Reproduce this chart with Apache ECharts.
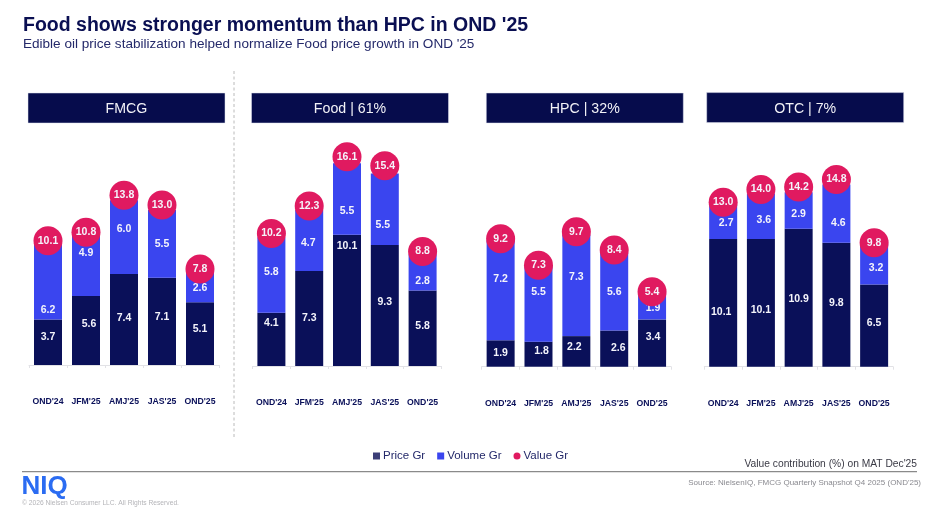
<!DOCTYPE html>
<html>
<head>
<meta charset="utf-8">
<script src="https://cdn.jsdelivr.net/npm/echarts@6/dist/echarts.min.js"></script>
<style>html,body{margin:0;padding:0;background:#fff}#c{width:936px;height:507px}</style>
</head>
<body>
<div id="c"></div>
<script>
const categories = ["OND'24","JFM'25","AMJ'25","JAS'25","OND'25"];

const fmcgPrice  = [3.7,5.6,7.4,7.1,5.1];
const fmcgVolume = [6.2,4.9,6.0,5.5,2.6];
const fmcgValue  = [10.1,10.8,13.8,13.0,7.8];

const foodPrice  = [4.1,7.3,10.1,9.3,5.8];
const foodVolume = [5.8,4.7,5.5,5.5,2.8];
const foodValue  = [10.2,12.3,16.1,15.4,8.8];

const hpcPrice  = [1.9,1.8,2.2,2.6,3.4];
const hpcVolume = [7.2,5.5,7.3,5.6,1.9];
const hpcValue  = [9.2,7.3,9.7,8.4,5.4];

const otcPrice  = [10.1,10.1,10.9,9.8,6.5];
const otcVolume = [2.7,3.6,2.9,4.6,3.2];
const otcValue  = [13.0,14.0,14.2,14.8,9.8];

const panelTitles = ["FMCG","Food | 61%","HPC | 32%","OTC | 7%"];
const panelPrice  = [fmcgPrice,foodPrice,hpcPrice,otcPrice];
const panelVolume = [fmcgVolume,foodVolume,hpcVolume,otcVolume];
const panelValue  = [fmcgValue,foodValue,hpcValue,otcValue];

// Layout and label nudges (not data)
const DARK='#0a1059', BLUE='#3a45ef', PINK='#e01a60', FONT='"Liberation Sans",Arial,sans-serif';
const AXIS_MAX=18;
const layout=[
  {left:29,   width:190, base:365,   unit:12.3,  hx:28,    hy:93},
  {left:252.5,width:189, base:366,   unit:13,    hx:251.5, hy:93},
  {left:481.7,width:189.3,base:366.7,unit:13.9,  hx:486.3, hy:93},
  {left:704.3,width:188.7,base:366.7,unit:12.65, hx:706.7, hy:92.6}
];
const priceNudge=[
  [[0,-5],[3,-6],[0,-1],[0,-4],[0,-5]],
  [[0,-16],[0,0],[0,-54],[0,-3],[0,-2]],
  [[0,0],[3,-3],[-2,-4],[4,-1],[1,-6]],
  [[-2,9],[0,7],[0,1.5],[0,-2],[0,-2]]
];
const volumeNudge=[
  [[0,29],[0,-13],[0,-8],[0,0],[0,1.6]],
  [[0,-3],[-1,2.5],[0,12],[-2,16],[0,9]],
  [[0,-11],[0,-11],[0,-8],[0,0],[1,2]],
  [[3,1],[3,4],[0,4],[2,9],[2,3.5]]
];

function nudged(vals,nudge){
  return vals.map((v,i)=>({value:v,label:{offset:nudge[i]}}));
}
const lbl={show:true,position:'inside',color:'#f4f4fb',fontSize:10.5,fontWeight:'bold',fontFamily:FONT,formatter:p=>p.value.toFixed(1)};

const grid=[],xAxis=[],yAxis=[],series=[],graphic=[];
layout.forEach((L,i)=>{
  const h=L.unit*AXIS_MAX;
  grid.push({left:L.left,width:L.width,top:L.base-h,height:h});
  xAxis.push({type:'category',gridIndex:i,data:categories,
    axisLine:{lineStyle:{color:'#e2e2e6',width:1}},
    axisTick:{show:true,length:3,alignWithLabel:false,lineStyle:{color:'#e2e2e6'}},
    axisLabel:{interval:0,margin:32,fontSize:8.7,fontWeight:'bold',color:DARK,fontFamily:FONT}});
  yAxis.push({type:'value',gridIndex:i,min:0,max:AXIS_MAX,show:false});
  series.push({name:'Price Gr',type:'bar',xAxisIndex:i,yAxisIndex:i,stack:'s'+i,barWidth:28,
    itemStyle:{color:DARK},label:lbl,z:2,data:nudged(panelPrice[i],priceNudge[i])});
  series.push({name:'Volume Gr',type:'bar',xAxisIndex:i,yAxisIndex:i,stack:'s'+i,barWidth:28,
    itemStyle:{color:BLUE},label:lbl,z:2,data:nudged(panelVolume[i],volumeNudge[i])});
  series.push({name:'Value Gr',type:'scatter',xAxisIndex:i,yAxisIndex:i,symbol:'circle',symbolSize:29,
    itemStyle:{color:PINK,opacity:1},z:5,
    label:{show:true,position:'inside',color:'#f4f4fb',fontSize:10.5,fontWeight:'bold',fontFamily:FONT,formatter:p=>(Array.isArray(p.value)?p.value[1]:p.value).toFixed(1)},
    data:panelValue[i]});
  graphic.push({type:'rect',x:L.hx,y:L.hy,shape:{width:197,height:30},style:{fill:'#060c4c',stroke:'#dfe0ee',lineWidth:0.5},z:1});
  graphic.push({type:'text',x:L.hx+98.5,y:L.hy+16.5,style:{text:panelTitles[i],fill:'#f2f2f7',font:'14.2px '+FONT,textAlign:'center',textVerticalAlign:'middle'},z:2});
});

function txt(text,x,y,font,fill,align){
  graphic.push({type:'text',x:x,y:y,style:{text:text,font:font,fill:fill,textAlign:align||'left',textVerticalAlign:'middle'},z:3});
}
txt("Food shows stronger momentum than HPC in OND '25",23,25.5,'bold 19.5px '+FONT,'#0a0f52');
txt("Edible oil price stabilization helped normalize Food price growth in OND '25",23,44.5,'13.55px '+FONT,'#24296a');
graphic.push({type:'line',shape:{x1:234,y1:71,x2:234,y2:437},style:{stroke:'#a8a8a8',lineWidth:0.8,lineDash:[3,2.5]},z:1});
graphic.push({type:'line',shape:{x1:22,y1:471.7,x2:917,y2:471.7},style:{stroke:'#8a8a8a',lineWidth:1.2},z:1});
txt("Value contribution (%) on MAT Dec'25",917,464,'10.25px '+FONT,'#3a3a45','right');
txt("Source: NielsenIQ, FMCG Quarterly Snapshot Q4 2025 (OND'25)",921,483,'8px '+FONT,'#8a8a90','right');
txt("NIQ",21.5,487,'bold 26px '+FONT,'#2b6cf2');
txt("© 2026 Nielsen Consumer LLC. All Rights Reserved.",22,503.5,'6.7px '+FONT,'#b4b4b8');

const chart=echarts.init(document.getElementById('c'),null,{renderer:'canvas'});
chart.setOption({
  animation:false,backgroundColor:'#fff',
  grid,xAxis,yAxis,series,graphic,
  legend:{left:368,top:445,itemWidth:7,itemHeight:7,itemGap:12,
    textStyle:{fontSize:11.5,color:'#24296a',fontFamily:FONT,padding:[0,0,0,-2]},
    data:[{name:'Price Gr',icon:'rect',itemStyle:{color:'#3c3f78'}},{name:'Volume Gr',icon:'rect'},{name:'Value Gr',icon:'circle'}]}
});
</script>
</body>
</html>
